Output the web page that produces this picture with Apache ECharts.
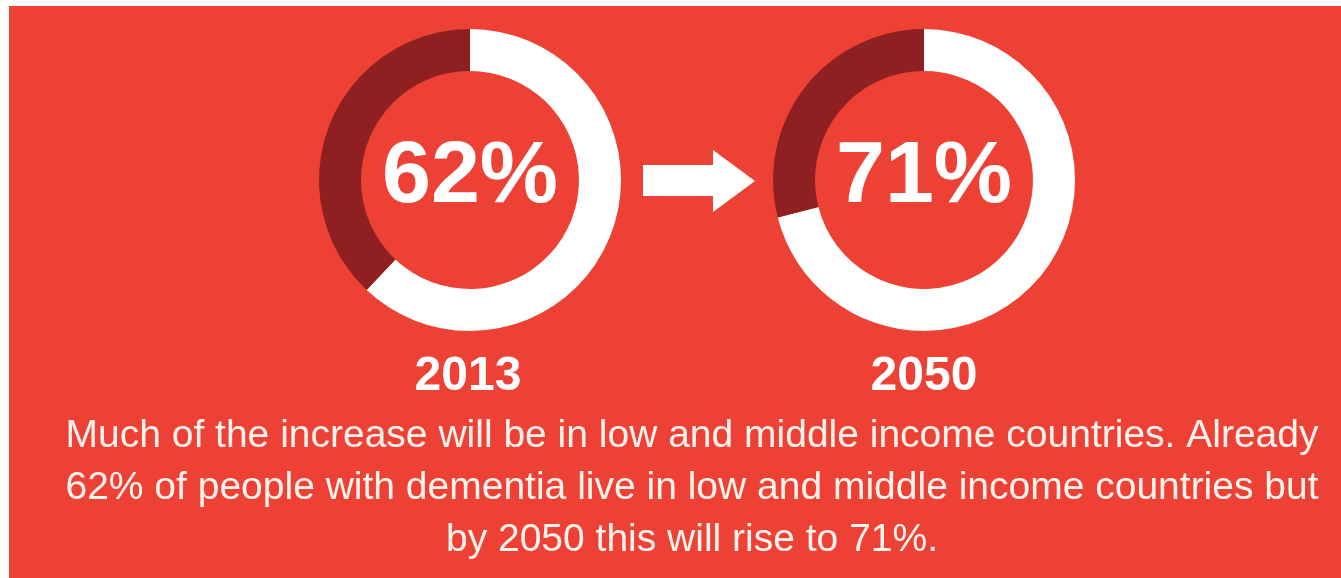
<!DOCTYPE html>
<html>
<head>
<meta charset="utf-8">
<script src="https://cdn.jsdelivr.net/npm/echarts@6/dist/echarts.min.js"></script>
<style>
html,body{margin:0;padding:0;background:#ffffff;width:1341px;height:578px;overflow:hidden;}
#main{position:absolute;left:9px;top:6px;width:1332px;height:572px;background:#EE4135;}
</style>
</head>
<body>
<div id="main"></div>
<script>
// Data
var years = ['2013', '2050'];
var lowMiddleShare = [62, 71];           // % of people with dementia in low & middle income countries
var captionLines = [
  'Much of the increase will be in low and middle income countries. Already',
  '62% of people with dementia live in low and middle income countries but',
  'by 2050 this will rise to 71%.'
];

var OX = 9, OY = 6; // offset of chart div within page
var centers = [[470 - OX, 180 - OY], [924 - OX, 180 - OY]];
var RED = '#EE4135', DARK = '#8E2021', WHITE = '#FFFFFF';
var FAMILY = 'Liberation Sans';

var chart = echarts.init(document.getElementById('main'), null, {renderer: 'canvas'});

var series = years.map(function (yr, i) {
  return {
    type: 'pie',
    name: yr,
    center: centers[i],
    radius: [109, 151],
    startAngle: 90,
    clockwise: true,
    silent: true,
    animation: false,
    label: {show: false},
    labelLine: {show: false},
    emphasis: {disabled: true},
    itemStyle: {borderWidth: 0},
    data: [
      {name: 'Low and middle income', value: lowMiddleShare[i], itemStyle: {color: WHITE}},
      {name: 'High income', value: 100 - lowMiddleShare[i], itemStyle: {color: DARK}}
    ]
  };
});

var graphics = [];
years.forEach(function (yr, i) {
  graphics.push({
    type: 'text', x: centers[i][0], y: 178 - OY, silent: true,
    style: {text: lowMiddleShare[i] + '%', fill: WHITE, fontFamily: FAMILY, fontWeight: 'bold', fontSize: 88, align: 'center', verticalAlign: 'middle'}
  });
  graphics.push({
    type: 'text', x: centers[i][0] - 2 + i * 2, y: 377 - OY, silent: true,
    style: {text: yr, fill: WHITE, fontFamily: FAMILY, fontWeight: 'bold', fontSize: 48, align: 'center', verticalAlign: 'middle'}
  });
});
captionLines.forEach(function (line, i) {
  graphics.push({
    type: 'text', x: 692 - OX, y: 436 + i * 52 - OY, silent: true,
    style: {text: line, fill: '#FFF3EE', fontFamily: FAMILY, fontSize: 39, align: 'center', verticalAlign: 'middle'}
  });
});
// arrow between the two donuts
graphics.push({
  type: 'polygon', silent: true,
  shape: {points: [
    [643 - OX, 165 - OY], [713 - OX, 165 - OY], [713 - OX, 150 - OY], [755 - OX, 181 - OY],
    [713 - OX, 212 - OY], [713 - OX, 196 - OY], [643 - OX, 196 - OY]
  ]},
  style: {fill: WHITE}
});

chart.setOption({
  backgroundColor: RED,
  animation: false,
  series: series,
  graphic: graphics
});
</script>
</body>
</html>
